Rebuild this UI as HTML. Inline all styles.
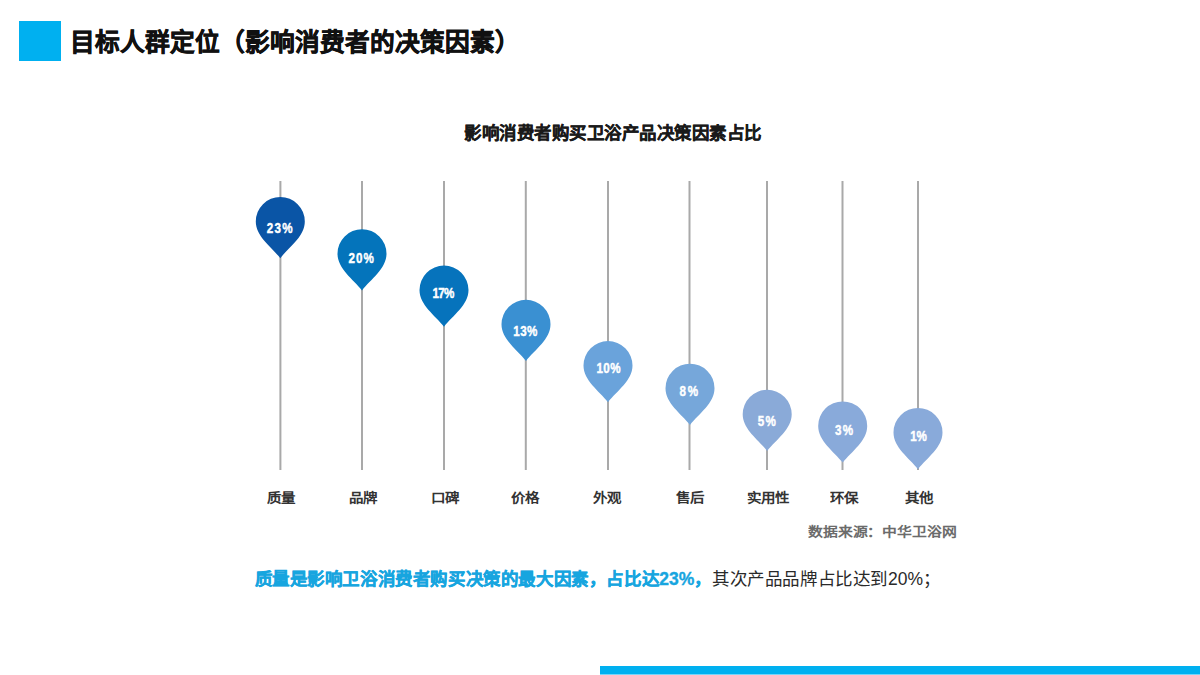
<!DOCTYPE html>
<html lang="zh-CN"><head><meta charset="utf-8">
<style>
html,body{margin:0;padding:0;}
body{width:1200px;height:675px;position:relative;overflow:hidden;background:#fff;font-family:"Liberation Sans",sans-serif;}
.sq{position:absolute;left:19px;top:21px;width:42px;height:40px;background:#00B0F0;}
.title{position:absolute;left:70px;top:24.5px;font-size:24.7px;line-height:36px;font-weight:bold;color:#111;-webkit-text-stroke:0.6px #111;white-space:nowrap;}
.ctitle{position:absolute;left:464px;top:119.5px;font-size:17.5px;letter-spacing:0.5px;line-height:26px;font-weight:bold;color:#1a1a1a;white-space:nowrap;-webkit-text-stroke:0.25px #1a1a1a;}
svg{position:absolute;left:0;top:0;}
.pv{font-family:"Liberation Sans",sans-serif;font-weight:bold;font-size:15.5px;fill:#fff;stroke:#fff;stroke-width:0.45px;}
.lab{position:absolute;top:487.5px;width:100px;text-align:center;font-size:14.5px;line-height:22px;font-weight:bold;color:#333;white-space:nowrap;transform:scaleY(0.9);transform-origin:0 0;}
.src{position:absolute;left:808px;top:522.5px;font-size:15px;line-height:20px;font-weight:bold;color:#6b6b6b;white-space:nowrap;transform:scale(0.99,0.86);transform-origin:0 0;}
.desc{position:absolute;left:254.5px;top:566px;font-size:17.5px;line-height:26px;white-space:nowrap;color:#2a2a2a;letter-spacing:0.6px;}
.desc i{font-style:normal;letter-spacing:0;}
.desc b{color:#17A5DF;-webkit-text-stroke:0.35px #17A5DF;}
.bar{position:absolute;left:600px;top:666px;width:600px;height:8px;background:#00B0F0;}
.bar2{position:absolute;left:600px;top:674px;width:600px;height:1px;background:#74D6FA;}
</style></head><body>
<div class="sq"></div>
<div class="title">目标人群定位（影响消费者的决策因素）</div>
<div class="ctitle">影响消费者购买卫浴产品决策因素占比</div>
<svg width="1200" height="675" viewBox="0 0 1200 675">
<line x1="280.4" y1="181" x2="280.4" y2="470" stroke="#a9a9a9" stroke-width="2"/>
<line x1="362" y1="181" x2="362" y2="470" stroke="#a9a9a9" stroke-width="2"/>
<line x1="444" y1="181" x2="444" y2="470" stroke="#a9a9a9" stroke-width="2"/>
<line x1="525.8" y1="181" x2="525.8" y2="470" stroke="#a9a9a9" stroke-width="2"/>
<line x1="608" y1="181" x2="608" y2="470" stroke="#a9a9a9" stroke-width="2"/>
<line x1="689.5" y1="181" x2="689.5" y2="470" stroke="#a9a9a9" stroke-width="2"/>
<line x1="767" y1="181" x2="767" y2="470" stroke="#a9a9a9" stroke-width="2"/>
<line x1="842.5" y1="181" x2="842.5" y2="470" stroke="#a9a9a9" stroke-width="2"/>
<line x1="918" y1="181" x2="918" y2="470" stroke="#a9a9a9" stroke-width="2"/>
<path d="M280.30 258.20 C289.30 246.80 304.80 236.40 304.80 221.50 A24.5 24.5 0 0 0 280.30 197.00 A24.5 24.5 0 0 0 255.80 221.50 C255.80 236.40 271.30 246.80 280.30 258.20 Z" fill="#0A55A6"/>
<text transform="scale(0.75 1)" x="355.73" y="232.6" textLength="34.27" lengthAdjust="spacing" class="pv">23%</text>
<path d="M362.00 290.40 C371.00 279.00 386.50 268.60 386.50 253.70 A24.5 24.5 0 0 0 362.00 229.20 A24.5 24.5 0 0 0 337.50 253.70 C337.50 268.60 353.00 279.00 362.00 290.40 Z" fill="#0474BB"/>
<text transform="scale(0.75 1)" x="464.67" y="262.6" textLength="33.87" lengthAdjust="spacing" class="pv">20%</text>
<path d="M444.00 326.80 C453.00 315.40 468.50 305.00 468.50 290.10 A24.5 24.5 0 0 0 444.00 265.60 A24.5 24.5 0 0 0 419.50 290.10 C419.50 305.00 435.00 315.40 444.00 326.80 Z" fill="#0673BC"/>
<text transform="scale(0.75 1)" x="576.53" y="298.4" textLength="29.20" lengthAdjust="spacing" class="pv">17%</text>
<path d="M526.00 361.00 C535.00 349.60 550.50 339.20 550.50 324.30 A24.5 24.5 0 0 0 526.00 299.80 A24.5 24.5 0 0 0 501.50 324.30 C501.50 339.20 517.00 349.60 526.00 361.00 Z" fill="#3A90D2"/>
<text transform="scale(0.75 1)" x="684.40" y="336.3" textLength="32.13" lengthAdjust="spacing" class="pv">13%</text>
<path d="M608.00 402.30 C617.00 390.90 632.50 380.50 632.50 365.60 A24.5 24.5 0 0 0 608.00 341.10 A24.5 24.5 0 0 0 583.50 365.60 C583.50 380.50 599.00 390.90 608.00 402.30 Z" fill="#6AA3DB"/>
<text transform="scale(0.75 1)" x="795.20" y="372.6" textLength="32.13" lengthAdjust="spacing" class="pv">10%</text>
<path d="M690.00 424.90 C699.00 413.50 714.50 403.10 714.50 388.20 A24.5 24.5 0 0 0 690.00 363.70 A24.5 24.5 0 0 0 665.50 388.20 C665.50 403.10 681.00 413.50 690.00 424.90 Z" fill="#76A7DA"/>
<text transform="scale(0.75 1)" x="906.00" y="395.6" textLength="24.67" lengthAdjust="spacing" class="pv">8%</text>
<path d="M767.20 451.00 C776.20 439.60 791.70 429.20 791.70 414.30 A24.5 24.5 0 0 0 767.20 389.80 A24.5 24.5 0 0 0 742.70 414.30 C742.70 429.20 758.20 439.60 767.20 451.00 Z" fill="#8AAAD8"/>
<text transform="scale(0.75 1)" x="1010.27" y="426.0" textLength="24.13" lengthAdjust="spacing" class="pv">5%</text>
<path d="M842.70 462.60 C851.70 451.20 867.20 440.80 867.20 425.90 A24.5 24.5 0 0 0 842.70 401.40 A24.5 24.5 0 0 0 818.20 425.90 C818.20 440.80 833.70 451.20 842.70 462.60 Z" fill="#89AADA"/>
<text transform="scale(0.75 1)" x="1113.20" y="435.2" textLength="24.13" lengthAdjust="spacing" class="pv">3%</text>
<path d="M918.00 469.20 C927.00 457.80 942.50 447.40 942.50 432.50 A24.5 24.5 0 0 0 918.00 408.00 A24.5 24.5 0 0 0 893.50 432.50 C893.50 447.40 909.00 457.80 918.00 469.20 Z" fill="#89AADA"/>
<text transform="scale(0.75 1)" x="1213.73" y="441.0" textLength="22.00" lengthAdjust="spacing" class="pv">1%</text>
</svg>
<div class="lab" style="left:231.2px">质量</div>
<div class="lab" style="left:312.9px">品牌</div>
<div class="lab" style="left:395.2px">口碑</div>
<div class="lab" style="left:475.0px">价格</div>
<div class="lab" style="left:557.0px">外观</div>
<div class="lab" style="left:639.9px">售后</div>
<div class="lab" style="left:718.3px">实用性</div>
<div class="lab" style="left:794.0px">环保</div>
<div class="lab" style="left:868.9px">其他</div>
<div class="src">数据来源：中华卫浴网</div>
<div class="desc"><b>质量是影响卫浴消费者购买决策的最大因素，占比达<i>23%</i>，</b>其次产品品牌占比达到<i>20%</i>；</div>
<div class="bar"></div>
<div class="bar2"></div>
</body></html>
